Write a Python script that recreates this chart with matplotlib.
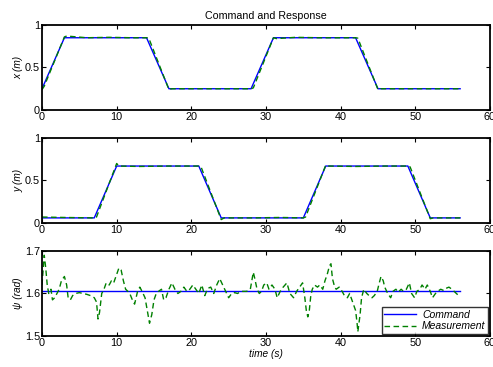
import matplotlib
matplotlib.use("Agg")
import matplotlib.pyplot as plt

plt.rcParams['font.family'] = ['Liberation Sans', 'DejaVu Sans']
plt.rcParams['font.size'] = 7.5

# Commande et mesure en x
x_cmd_t = [0, 3, 14, 17, 28, 31, 42, 45, 56]
x_cmd = [0.25, 0.85, 0.85, 0.25, 0.25, 0.85, 0.85, 0.25, 0.25]
x_mes_t = [0, 0.3, 3, 3.3, 6, 9, 12, 14, 14.3, 17, 17.4, 21, 25, 28, 28.3,
           31, 31.4, 34, 37, 40, 42, 42.3, 45, 45.4, 49, 53, 56]
x_mes = [0.24, 0.28, 0.86, 0.87, 0.85, 0.855, 0.85, 0.85, 0.845, 0.24, 0.25,
         0.25, 0.25, 0.25, 0.26, 0.85, 0.84, 0.855, 0.85, 0.85, 0.85, 0.845,
         0.24, 0.25, 0.25, 0.25, 0.25]

# Commande et mesure en y
y_cmd_t = [0, 7, 10, 21, 24, 35, 38, 49, 52, 56]
y_cmd = [0.06, 0.06, 0.67, 0.67, 0.06, 0.06, 0.67, 0.67, 0.06, 0.06]
y_mes_t = [0, 3, 7, 7.3, 10, 10.3, 13, 17, 21, 21.3, 24, 24.4, 28, 32, 35,
           35.3, 38, 38.3, 42, 46, 49, 49.3, 52, 52.4, 56]
y_mes = [0.07, 0.065, 0.06, 0.07, 0.70, 0.67, 0.665, 0.67, 0.67, 0.66,
         0.04, 0.06, 0.06, 0.065, 0.06, 0.07, 0.68, 0.67, 0.665, 0.67, 0.67,
         0.66, 0.05, 0.06, 0.06]

# Cap psi
psi_cmd_t = [0, 56]
psi_cmd = [1.605, 1.605]
psi_t = [0, 0.3, 0.5, 0.7, 0.9, 1.2, 1.4, 1.7, 2.0, 2.3, 2.6, 2.8, 3.0, 3.3,
         3.5, 3.8, 4.1, 4.5, 5.0, 5.5, 6.0, 6.5, 7.0, 7.3, 7.5, 7.7, 8.0,
         8.3, 8.6, 9.0, 9.3, 9.6, 10.0, 10.3, 10.6, 10.9, 11.2, 11.5, 11.8,
         12.1, 12.4, 12.8, 13.1, 13.4, 13.8, 14.1, 14.4, 14.7, 15.0, 15.3,
         15.6, 16.0, 16.3, 16.6, 17.0, 17.4, 17.8, 18.2, 18.6, 19.0, 19.4,
         19.8, 20.2, 20.6, 21.0, 21.4, 21.8, 22.2, 22.6, 23.0, 23.4, 23.8,
         24.2, 24.6, 25.0, 25.4, 25.8, 26.2, 26.6, 27.0, 27.4, 27.9, 28.3,
         28.5, 28.8, 29.1, 29.4, 29.7, 30.1, 30.4, 30.8, 31.2, 31.5, 31.9,
         32.3, 32.8, 33.2, 33.7, 34.1, 34.5, 34.9, 35.2, 35.4, 35.6, 35.8,
         36.0, 36.2, 36.5, 36.9, 37.2, 37.6, 37.9, 38.2, 38.5, 38.7, 38.9,
         39.2, 39.4, 39.8, 40.2, 40.5, 40.9, 41.2, 41.5, 41.8, 42.0, 42.2,
         42.3, 42.6, 42.8, 43.1, 43.5, 43.8, 44.2, 44.5, 44.9, 45.1, 45.4,
         45.7, 45.9, 46.3, 46.7, 47.0, 47.4, 47.7, 48.1, 48.4, 48.8, 49.2,
         49.5, 49.9, 50.2, 50.6, 50.9, 51.3, 51.6, 52.0, 52.3, 52.7, 53.0,
         53.4, 53.8, 54.1, 54.5, 54.9, 55.2, 55.5, 55.8]
psi = [1.62, 1.69, 1.66, 1.62, 1.60, 1.61, 1.585, 1.59, 1.60, 1.61, 1.63,
       1.635, 1.64, 1.62, 1.59, 1.585, 1.595, 1.60, 1.602, 1.60, 1.598,
       1.595, 1.59, 1.58, 1.54, 1.555, 1.60, 1.61, 1.625, 1.62, 1.63, 1.625,
       1.645, 1.66, 1.655, 1.63, 1.61, 1.605, 1.598, 1.585, 1.575, 1.605,
       1.615, 1.605, 1.59, 1.56, 1.53, 1.55, 1.585, 1.60, 1.605, 1.61, 1.585,
       1.59, 1.61, 1.625, 1.61, 1.60, 1.605, 1.615, 1.605, 1.61, 1.62, 1.61,
       1.60, 1.62, 1.595, 1.612, 1.615, 1.60, 1.62, 1.635, 1.62, 1.605, 1.59,
       1.60, 1.602, 1.60, 1.605, 1.605, 1.605, 1.61, 1.65, 1.635, 1.61, 1.60,
       1.605, 1.62, 1.625, 1.61, 1.62, 1.61, 1.59, 1.605, 1.615, 1.625, 1.60,
       1.59, 1.605, 1.615, 1.625, 1.59, 1.56, 1.545, 1.56, 1.595, 1.61, 1.62,
       1.615, 1.62, 1.61, 1.63, 1.645, 1.665, 1.67, 1.635, 1.615, 1.61,
       1.615, 1.605, 1.595, 1.59, 1.60, 1.585, 1.57, 1.56, 1.53, 1.51, 1.55,
       1.59, 1.61, 1.60, 1.595, 1.59, 1.595, 1.605, 1.62, 1.64, 1.63, 1.615,
       1.60, 1.59, 1.605, 1.61, 1.603, 1.61, 1.605, 1.61, 1.625, 1.60, 1.59,
       1.605, 1.61, 1.62, 1.61, 1.62, 1.605, 1.59, 1.60, 1.605, 1.61, 1.607,
       1.612, 1.615, 1.61, 1.605, 1.60, 1.595]

fig = plt.figure(figsize=(4.93, 3.67), dpi=100)

L, W, H = 0.0852, 0.9087, 0.2316
ax1 = fig.add_axes([L, 0.7003, W, H])
ax2 = fig.add_axes([L, 0.3924, W, H])
ax3 = fig.add_axes([L, 0.0845, W, H])

verde = '#008000'
tracos = (0, (4, 2.5))

def style(ax):
    ax.set_xlim(0, 60)
    ax.set_xticks([0, 10, 20, 30, 40, 50, 60])
    ax.tick_params(direction='in', top=True, right=True, length=3,
                   width=0.8, labelsize=7.8, pad=1.5)
    for s in ax.spines.values():
        s.set_linewidth(1.3)

ax1.plot(x_cmd_t, x_cmd, color='blue', lw=1)
ax1.plot(x_mes_t, x_mes, color=verde, lw=1, ls=tracos)
ax1.set_ylim(0, 1)
ax1.set_yticks([0, 0.5, 1])
ax1.set_yticklabels(['0', '0.5', '1'])
ax1.set_ylabel('x (m)', style='italic', fontsize=7.3, labelpad=1)
ax1.set_title('Command and Response', fontsize=7.7, pad=4)
style(ax1)

ax2.plot(y_cmd_t, y_cmd, color='blue', lw=1)
ax2.plot(y_mes_t, y_mes, color=verde, lw=1, ls=tracos)
ax2.set_ylim(0, 1)
ax2.set_yticks([0, 0.5, 1])
ax2.set_yticklabels(['0', '0.5', '1'])
ax2.set_ylabel('y (m)', style='italic', fontsize=7.3, labelpad=1)
style(ax2)

ax3.plot(psi_cmd_t, psi_cmd, color='blue', lw=1, label='Command')
ax3.plot(psi_t, psi, color=verde, lw=1, ls=tracos, label='Measurement')
ax3.set_ylim(1.5, 1.7)
ax3.set_yticks([1.5, 1.6, 1.7])
ax3.set_ylabel('\u03c8 (rad)', style='italic', fontsize=7.3, labelpad=1)
ax3.set_xlabel('time (s)', style='italic', fontsize=7.3, labelpad=0.5)
style(ax3)
leg = ax3.legend(loc='lower right', fancybox=False, edgecolor='black',
                 prop={'style': 'italic', 'size': 7.5}, handlelength=3.0,
                 borderpad=0.25, labelspacing=0.15, borderaxespad=0.2,
                 handletextpad=0.6)
leg.get_frame().set_linewidth(1)

fig.savefig('out.png', dpi=100)
